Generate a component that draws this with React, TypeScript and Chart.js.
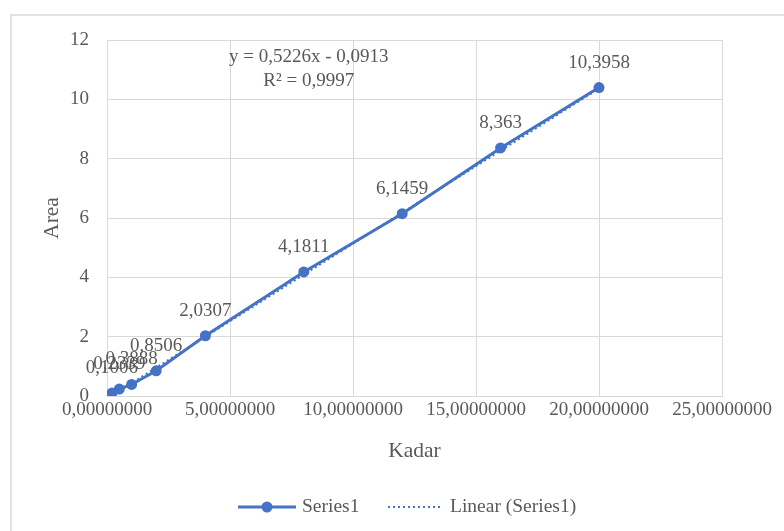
import React, { useEffect, useRef } from "react";
import { Chart, registerables } from "chart.js";

Chart.register(...registerables);

const kadar = [0.2, 0.5, 1, 2, 4, 8, 12, 16, 20];
const area = [0.1006, 0.2339, 0.3888, 0.8506, 2.0307, 4.1811, 6.1459, 8.363, 10.3958];
const slope = 0.5226;
const intercept = -0.0913;
const equationLines = ["y = 0,5226x - 0,0913", "R² = 0,9997"];
const seriesName = "Series1";
const trendName = "Linear (Series1)";
const xTitle = "Kadar";
const yTitle = "Area";

const BLUE = "#4472C4";
const GRID = "#d9d9d9";
const TEXT = "#595959";
const FONT_FAMILY = "'Liberation Serif', 'Times New Roman', serif";
const FS = 19;
const TFS = 21.5;

const fmtComma = (v: number) => String(v).replace(".", ",");

const decorPlugin = {
  id: "decor",
  beforeDraw(chart: any) {
    const ctx = chart.ctx;
    ctx.save();
    ctx.strokeStyle = GRID;
    ctx.lineWidth = 1.5;
    ctx.beginPath();
    ctx.moveTo(11, 540);
    ctx.lineTo(11, 15);
    ctx.lineTo(800, 15);
    ctx.stroke();
    ctx.restore();
  },
  afterDatasetsDraw(chart: any) {
    const ctx = chart.ctx;
    const meta = chart.getDatasetMeta(0);
    ctx.save();
    ctx.font = `${FS}px ${FONT_FAMILY}`;
    ctx.fillStyle = TEXT;
    ctx.textAlign = "center";
    ctx.textBaseline = "middle";
    meta.data.forEach((pt: any, i: number) => {
      ctx.fillText(fmtComma(area[i]), pt.x, pt.y - 25);
    });
    // trendline equation
    const ca = chart.chartArea;
    const ex = ca.left + (ca.right - ca.left) * 0.328;
    ctx.fillText(equationLines[0], ex, ca.top + 17);
    ctx.fillText(equationLines[1], ex, ca.top + 41);

    // legend
    const ly = 507;
    ctx.strokeStyle = BLUE;
    ctx.lineWidth = 3;
    ctx.beginPath();
    ctx.moveTo(238, ly);
    ctx.lineTo(296, ly);
    ctx.stroke();
    ctx.fillStyle = BLUE;
    ctx.beginPath();
    ctx.arc(267, ly, 5.5, 0, Math.PI * 2);
    ctx.fill();
    ctx.setLineDash([2, 3]);
    ctx.lineWidth = 2;
    ctx.beginPath();
    ctx.moveTo(388, ly);
    ctx.lineTo(442, ly);
    ctx.stroke();
    ctx.setLineDash([]);
    ctx.fillStyle = TEXT;
    ctx.textAlign = "left";
    ctx.font = `19.5px ${FONT_FAMILY}`;
    ctx.fillText(seriesName, 302, ly);
    ctx.fillText(trendName, 450, ly);
    ctx.restore();
  },
};

export default function App() {
  const ref = useRef<HTMLCanvasElement | null>(null);
  useEffect(() => {
    if (!ref.current) return;
    const x0 = kadar[0];
    const x1 = kadar[kadar.length - 1];
    const chart = new Chart(ref.current, {
      type: "scatter",
      data: {
        datasets: [
          {
            label: seriesName,
            data: kadar.map((x, i) => ({ x, y: area[i] })),
            showLine: true,
            borderColor: BLUE,
            backgroundColor: BLUE,
            borderWidth: 3,
            pointRadius: 5.5,
            pointBorderWidth: 0,
          },
          {
            label: trendName,
            data: [
              { x: x0, y: slope * x0 + intercept },
              { x: x1, y: slope * x1 + intercept },
            ],
            showLine: true,
            borderColor: BLUE,
            borderWidth: 2,
            borderDash: [2, 3],
            pointRadius: 0,
          },
        ],
      },
      options: {
        responsive: false,
        animation: false,
        devicePixelRatio: 1,
        layout: { padding: { left: 0, top: 40, right: 62, bottom: 0 } },
        plugins: { legend: { display: false }, tooltip: { enabled: false } },
        scales: {
          x: {
            type: "linear",
            min: 0,
            max: 25,
            afterFit: (s: any) => {
              s.height = 135;
            },
            ticks: {
              stepSize: 5,
              padding: 3,
              color: TEXT,
              font: { family: FONT_FAMILY, size: FS },
              callback: (v: any) => Number(v).toFixed(8).replace(".", ","),
              maxRotation: 0,
            },
            grid: { color: GRID, lineWidth: 1, drawTicks: false },
            border: { color: GRID },
            title: {
              display: true,
              text: xTitle,
              color: TEXT,
              font: { family: FONT_FAMILY, size: TFS },
              padding: { top: 0, bottom: 67 },
            },
          },
          y: {
            type: "linear",
            min: 0,
            max: 12,
            afterFit: (s: any) => {
              s.width = 107;
            },
            ticks: {
              stepSize: 2,
              padding: 18,
              color: TEXT,
              font: { family: FONT_FAMILY, size: FS },
            },
            grid: { color: GRID, lineWidth: 1, drawTicks: false },
            border: { color: GRID },
            title: {
              display: true,
              text: yTitle,
              color: TEXT,
              font: { family: FONT_FAMILY, size: TFS },
              padding: { top: 39, bottom: 0 },
            },
          },
        },
      },
      plugins: [decorPlugin],
    });
    return () => chart.destroy();
  }, []);
  return (
    <div style={{ position: "fixed", left: 0, top: 0, width: 784, height: 531, background: "#fff" }}>
      <canvas ref={ref} width={784} height={531} style={{ display: "block" }} />
    </div>
  );
}
